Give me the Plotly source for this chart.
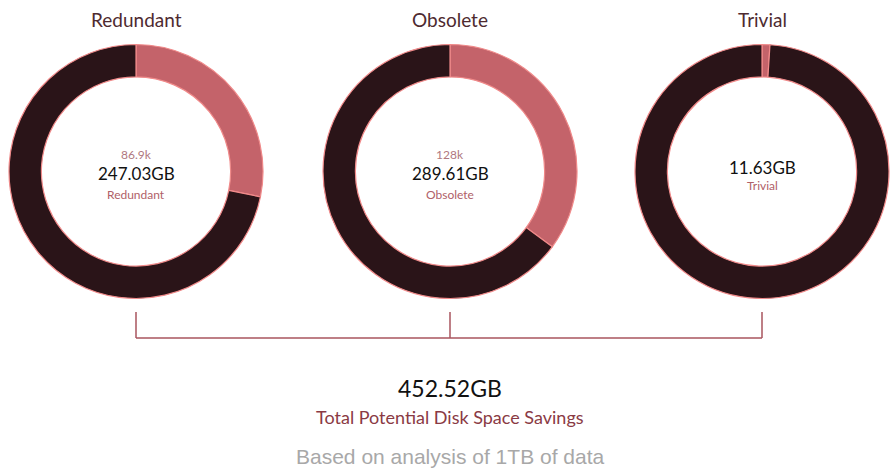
import plotly.graph_objects as go

categories = ["Redundant", "Obsolete", "Trivial"]
share = [0.282, 0.351, 0.01]          # fraction of ring highlighted
sizes_gb = ["247.03GB", "289.61GB", "11.63GB"]
counts = ["86.9k", "128k", ""]
total_label = "452.52GB"
total_caption = "Total Potential Disk Space Savings"
footnote = "Based on analysis of 1TB of data"

W, H = 893, 468
centers_px = [136, 450, 762]
cy_px = 171.5
R = 127

DARK = "#2a1418"
LIGHT = "#c4636a"
EDGE = "#f08a8a"

fig = go.Figure()
for i, cat in enumerate(categories):
    cx = centers_px[i]
    fig.add_trace(go.Pie(
        values=[share[i], 1 - share[i]],
        labels=[cat, "Other"],
        sort=False, direction="clockwise", rotation=0,
        hole=0.745,
        marker=dict(colors=[LIGHT, DARK], line=dict(color=EDGE, width=1.2)),
        textinfo="none", hoverinfo="skip", showlegend=False,
        domain=dict(x=[(cx - R) / W, (cx + R) / W],
                    y=[1 - (cy_px + R) / H, 1 - (cy_px - R) / H]),
    ))

ann = []
font_main = "Lato, 'Noto Sans', sans-serif"


def add(xpx, ypx, text, size, color, family=font_main):
    ann.append(dict(x=xpx / W, y=1 - ypx / H, text=text, showarrow=False,
                    xanchor="center", yanchor="middle",
                    font=dict(family=family, size=size, color=color)))


for i, cat in enumerate(categories):
    cx = centers_px[i]
    add(cx, 20, cat, 19, "#4e2a30")
    if counts[i]:
        add(cx, 155, counts[i], 12, "#b07880")
        add(cx, 173, sizes_gb[i], 17, "#111111")
        add(cx, 194, cat, 12, "#b06068")
    else:
        add(cx, 167, sizes_gb[i], 17, "#111111")
        add(cx, 186, cat, 12, "#b06068")

add(450, 388, total_label, 23, "#111111")
add(450, 417, total_caption, 18, "#8a3a44")
add(450, 456, footnote, 21, "#a8a8a8", "'Liberation Sans', Arial, sans-serif")

LINE = "#a8545e"
shapes = [dict(type="line", xref="paper", yref="paper",
               x0=centers_px[0] / W, x1=centers_px[-1] / W,
               y0=1 - 338 / H, y1=1 - 338 / H, line=dict(color=LINE, width=1.5))]
for cx in centers_px:
    shapes.append(dict(type="line", xref="paper", yref="paper",
                       x0=cx / W, x1=cx / W, y0=1 - 312 / H, y1=1 - 338 / H,
                       line=dict(color=LINE, width=1.5)))

fig.update_layout(width=W, height=H, margin=dict(l=0, r=0, t=0, b=0),
                  paper_bgcolor="white", plot_bgcolor="white",
                  annotations=ann, shapes=shapes)
fig.write_html("out.html", config={"displayModeBar": False},
               post_script="document.body.style.margin='0';document.body.style.overflow='hidden';")
